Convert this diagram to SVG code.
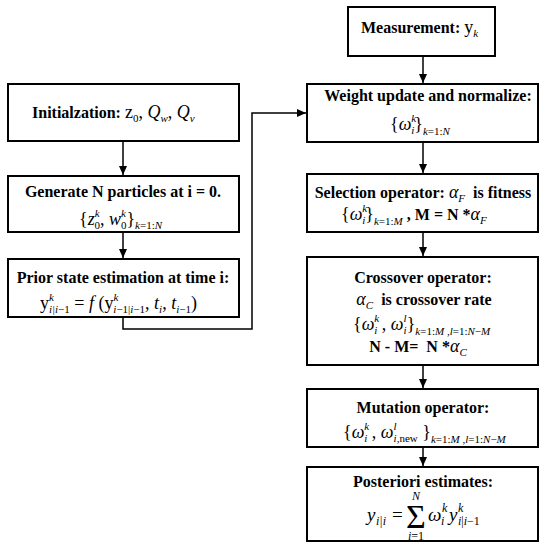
<svg xmlns="http://www.w3.org/2000/svg" width="548" height="550" viewBox="0 0 548 550">
<defs>
<marker id="ah" markerUnits="userSpaceOnUse" markerWidth="10" markerHeight="10" refX="9" refY="4" orient="auto">
<path d="M0,0 L9,4 L0,8 Z" fill="#000"/>
</marker>
<style>
rect.box{fill:#fff;stroke:#000;stroke-width:2}
.b{font-family:"Liberation Serif","Times New Roman",serif;font-weight:bold;font-size:16px;fill:#000}
.m{font-family:"Liberation Serif","Times New Roman",serif;font-size:18px;fill:#000}
.i{font-style:italic}
.s{font-size:11px}
.n{font-weight:normal}
.big{font-size:19px}
.ps{font-size:12px}
.sig{font-size:34px}
.c line,.c polyline{stroke:#000;stroke-width:1.5;fill:none;marker-end:url(#ah)}
</style>
</defs>
<rect width="548" height="550" fill="#fff"/>

<g class="c" id="connectors">
<line x1="123" y1="141" x2="123" y2="175"/>
<line x1="123" y1="232" x2="123" y2="258"/>
<polyline points="123,317 123,329 252,329 252,113 306,113"/>
<line x1="423" y1="56" x2="423" y2="83"/>
<line x1="423" y1="142" x2="423" y2="173"/>
<line x1="423" y1="232" x2="423" y2="256"/>
<line x1="423" y1="365" x2="423" y2="388"/>
<line x1="423" y1="447" x2="423" y2="466"/>
</g>

<g id="init">
<rect class="box" x="8" y="84" width="231" height="57"/>
<text class="b" x="32" y="118">Initialzation: <tspan class="m n">z</tspan><tspan class="m n s" dy="4">0</tspan><tspan class="m n" dy="-4">, </tspan><tspan class="m n i">Q</tspan><tspan class="m n i s" dy="4">w</tspan><tspan class="m n" dy="-4">, </tspan><tspan class="m n i">Q</tspan><tspan class="m n i s" dy="4">v</tspan></text>
</g>

<g id="generate">
<rect class="box" x="8" y="176" width="231" height="56"/>
<text class="b" x="123" y="197" text-anchor="middle">Generate N particles at i = 0.</text>
<text class="m" x="79" y="225">{<tspan class="i">z</tspan><tspan class="i s" dy="-8">k</tspan><tspan class="s" dx="-5" dy="12">0</tspan><tspan dy="-4">, </tspan><tspan class="i">w</tspan><tspan class="i s" dy="-8">k</tspan><tspan class="s" dx="-5" dy="12">0</tspan><tspan dy="-4">}</tspan><tspan class="s" dy="4"><tspan class="i">k</tspan>=1:<tspan class="i">N</tspan></tspan></text>
</g>

<g id="prior">
<rect class="box" x="8" y="259" width="231" height="58"/>
<text class="b" x="123" y="283" text-anchor="middle">Prior state estimation at time i:</text>
<text class="m" x="40" y="309">y<tspan class="i s" dy="-8">k</tspan><tspan class="i s" dx="-5" dy="12">i|i</tspan><tspan class="s">−1</tspan><tspan dy="-4"> = </tspan><tspan class="i">f</tspan> (y<tspan class="i s" dy="-8">k</tspan><tspan class="i s" dx="-5" dy="12">i</tspan><tspan class="s">−1|</tspan><tspan class="i s">i</tspan><tspan class="s">−1</tspan><tspan dy="-4">, </tspan><tspan class="i">t</tspan><tspan class="i s" dy="4">i</tspan><tspan dy="-4">, </tspan><tspan class="i">t</tspan><tspan class="i s" dy="4">i</tspan><tspan class="s">−1</tspan><tspan dy="-4">)</tspan></text>
</g>

<g id="measurement">
<rect class="box" x="348" y="7" width="147" height="49"/>
<text class="b" x="361" y="33">Measurement: <tspan class="m n">y</tspan><tspan class="m n i s" dy="4">k</tspan></text>
</g>

<g id="weight">
<rect class="box" x="307" y="84" width="231" height="58"/>
<text class="b" x="428" y="101" text-anchor="middle">Weight update and normalize:</text>
<text class="m" x="390" y="130">{<tspan class="i">ω</tspan><tspan class="i s" dy="-8">k</tspan><tspan class="i s" dx="-5" dy="12">i</tspan><tspan dy="-4">}</tspan><tspan class="s" dy="5"><tspan class="i">k</tspan>=1:<tspan class="i">N</tspan></tspan></text>
</g>

<g id="selection">
<rect class="box" x="307" y="174" width="231" height="58"/>
<text class="b" x="423" y="198" text-anchor="middle">Selection operator: <tspan class="m n i">α</tspan><tspan class="m n i s" dy="4">F</tspan><tspan dy="-4">&#160; is fitness</tspan></text>
<text class="m" x="341" y="220">{<tspan class="i">ω</tspan><tspan class="i s" dy="-8">k</tspan><tspan class="i s" dx="-5" dy="12">i</tspan><tspan dy="-4">}</tspan><tspan class="s" dy="5"><tspan class="i">k</tspan>=1:<tspan class="i">M</tspan></tspan><tspan class="b" dy="-5"> , M = N *</tspan><tspan class="i">α</tspan><tspan class="i s" dy="4">F</tspan></text>
</g>

<g id="crossover">
<rect class="box" x="307" y="257" width="231" height="108"/>
<text class="b" x="423" y="283" text-anchor="middle">Crossover operator:</text>
<text class="b" x="424" y="305" text-anchor="middle"><tspan class="m n i">α</tspan><tspan class="m n i s" dy="4">C</tspan><tspan dy="-4">&#160; is crossover rate</tspan></text>
<text class="m" x="353" y="330">{<tspan class="i">ω</tspan><tspan class="i s" dy="-8">k</tspan><tspan class="i s" dx="-5" dy="12">i</tspan><tspan dy="-4"> , </tspan><tspan class="i">ω</tspan><tspan class="i s" dy="-8">l</tspan><tspan class="i s" dx="-3" dy="12">i</tspan><tspan dy="-4">}</tspan><tspan class="s" dy="5"><tspan class="i">k</tspan>=1:<tspan class="i">M</tspan> ,<tspan class="i">l</tspan>=1:<tspan class="i">N</tspan>−<tspan class="i">M</tspan></tspan></text>
<text class="b" x="418" y="352" text-anchor="middle">N - M=&#160; N *<tspan class="m n i">α</tspan><tspan class="m n i s" dy="4">C</tspan></text>
</g>

<g id="mutation">
<rect class="box" x="307" y="389" width="231" height="58"/>
<text class="b" x="423" y="413" text-anchor="middle">Mutation operator:</text>
<text class="m" x="343" y="438">{<tspan class="i">ω</tspan><tspan class="i s" dy="-8">k</tspan><tspan class="i s" dx="-5" dy="12">i</tspan><tspan dy="-4"> , </tspan><tspan class="i">ω</tspan><tspan class="i s" dy="-8">l</tspan><tspan class="i s" dx="-3" dy="12">i</tspan><tspan class="s">,new</tspan><tspan dy="-4"> }</tspan><tspan class="s" dy="5"><tspan class="i">k</tspan>=1:<tspan class="i">M</tspan> ,<tspan class="i">l</tspan>=1:<tspan class="i">N</tspan>−<tspan class="i">M</tspan></tspan></text>
</g>

<g id="posteriori">
<rect class="box" x="307" y="467" width="231" height="74"/>
<text class="b" x="423" y="487" text-anchor="middle">Posteriori estimates:</text>
<text class="m i big" x="367" y="521">y</text>
<text class="m i ps" x="376" y="525">i|i</text>
<text class="m big" x="392" y="521">=</text>
<text class="m sig" x="416" y="528" text-anchor="middle">Σ</text>
<text class="m i ps" x="416" y="500" text-anchor="middle">N</text>
<text class="m ps" x="416" y="540" text-anchor="middle"><tspan class="i">i</tspan>=1</text>
<text class="m i big" x="428" y="521">ω</text>
<text class="m i ps" x="442" y="512">k</text>
<text class="m i ps" x="441" y="525">i</text>
<text class="m i big" x="449" y="521">y</text>
<text class="m i ps" x="458" y="512">k</text>
<text class="m ps" x="458" y="525"><tspan class="i">i</tspan>|<tspan class="i">i</tspan>−1</text>
</g>
</svg>
